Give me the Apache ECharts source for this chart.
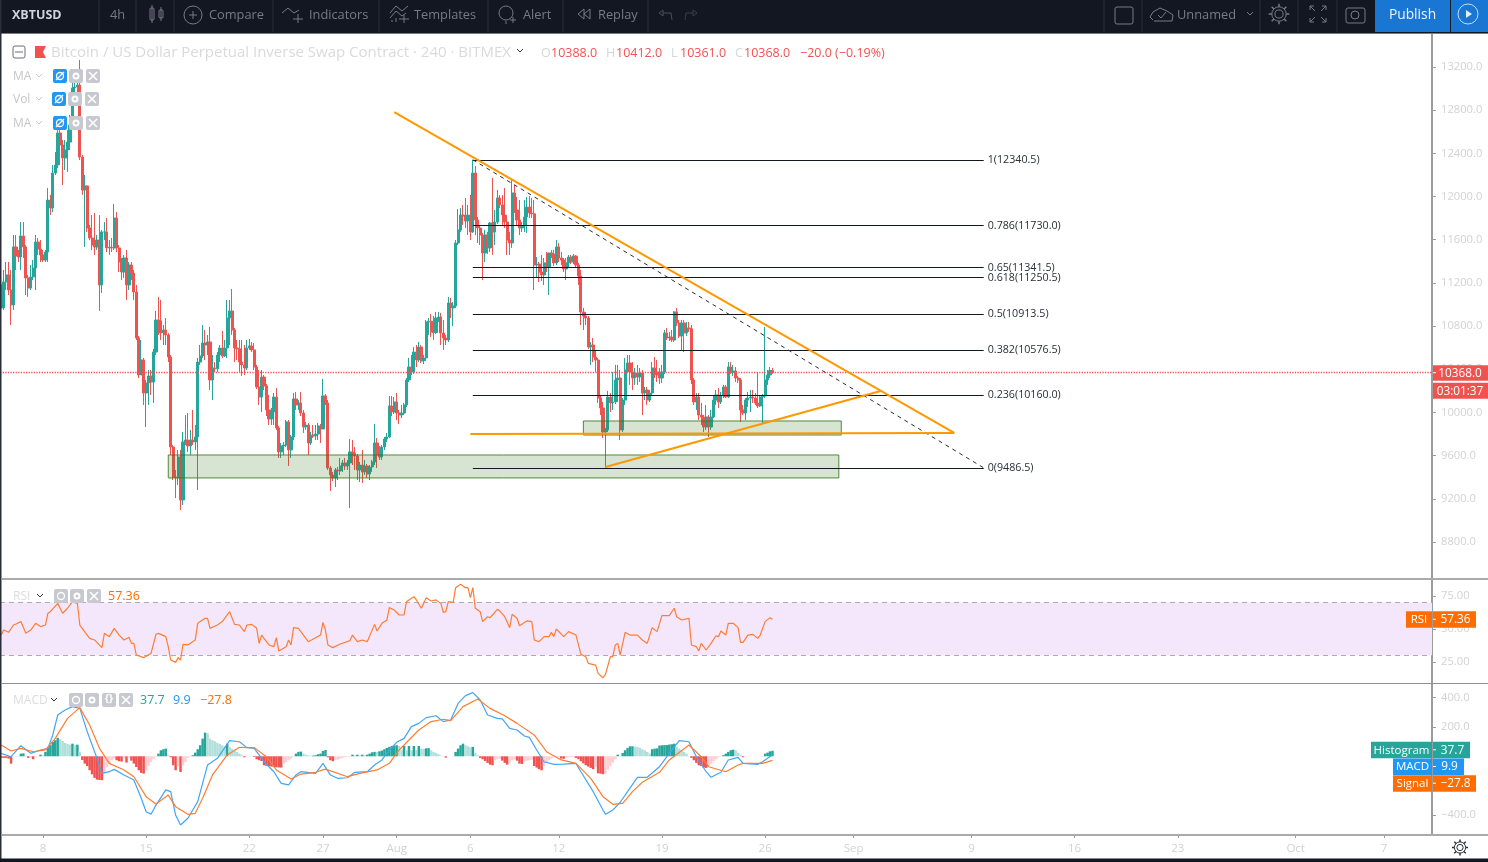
<!DOCTYPE html>
<html>
<head>
<meta charset="utf-8">
<title>XBTUSD</title>
<style>html,body{margin:0;padding:0;background:#fff}#main{width:1488px;height:862px}</style>
<script src="https://cdn.jsdelivr.net/npm/echarts@6/dist/echarts.min.js"></script>
</head>
<body>
<div id="main"></div>
<script>
// 4h candles. each open is the close before it
var firstOpen=11181;
var closes=[
10968,11209,11274,11134,10996,11533,11449,11440,11635,11533,
11246,11153,11255,11338,11579,11514,11459,11412,11486,11968,
11894,12218,12292,12589,12478,12357,12431,12505,12663,13006,
13015,13033,12366,12060,12098,11709,11616,11551,11533,11597,
11181,11672,11672,11524,11530,11524,11801,11524,11394,11301,
11431,11181,11366,11292,11116,10690,10347,10486,10180,10273,
10338,10282,10560,10856,10850,10736,10764,10718,10514,9680,
9402,9395,9587,9189,9726,9745,9689,9745,9726,9773,
10467,10523,10643,10625,10653,10301,10412,10405,10532,10597,
10523,10597,10875,10940,10764,10597,10590,10467,10440,10412,
10597,10616,10579,10421,10236,10143,10328,10245,10023,9939,
10004,10143,9856,9634,9689,9698,9912,9652,9773,10125,
10069,10088,9995,9865,9884,9717,9791,9782,9800,9875,
9847,10153,10088,9486,9421,9393,9467,9458,9504,9532,
9504,9532,9634,9625,9597,9467,9513,9449,9504,9430,
9495,9541,9717,9606,9587,9680,9754,9773,10060,10004,
10097,9995,9976,9995,10069,10301,10421,10375,10560,10486,
10606,10477,10505,10838,10845,10745,10740,10875,10884,10736,
10690,10671,11014,10968,10986,11570,11690,11829,11820,11774,
11829,11672,12218,11783,11709,11644,11477,11644,11524,11755,
11672,11764,11987,11922,11829,11764,11597,11570,12033,11875,
11783,11709,11727,11811,11903,11848,11840,11366,11375,11301,
11274,11385,11347,11477,11468,11385,11533,11431,11412,11329,
11385,11440,11394,11449,11366,11264,10931,10894,10875,10606,
10625,10514,10486,10134,10041,9819,9838,10143,10088,10097,
10301,10319,9838,10115,10393,10458,10375,10319,10365,10328,
10365,10180,10208,10115,10180,10412,10375,10347,10319,10375,
10736,10690,10699,10671,10931,10829,10708,10829,10736,10782,
10775,10301,10097,10143,9976,9958,9865,9958,9865,9958,
10115,10162,10097,10153,10236,10143,10421,10375,10384,10319,
10301,10023,9995,10115,10134,10143,10134,10088,10060,10143,
10153,10301,10347,10388,10368];
var highs=[
11320,11320,11394,11394,11320,11644,11644,11505,11764,11764,
11551,11274,11366,11412,11644,11616,11597,11505,11505,12079,
12015,12292,12413,12709,12663,12524,12524,12616,12756,13061,
13098,13098,13265,12385,12200,12107,11737,11829,11848,11644,
11829,11690,11764,11801,11597,11616,11931,11857,11551,11431,
11459,11505,11394,11394,11320,11181,10708,10671,10505,10301,
10393,10393,10588,10940,11070,11042,10810,10875,10736,10532,
9698,9467,9652,9652,9819,9976,9995,9838,10023,9884,
10505,10625,10810,10764,10718,10792,10532,10467,10560,10625,
10755,10671,11042,11042,11144,10782,10671,10671,10671,10625,
10671,10681,10653,10643,10440,10393,10393,10347,10264,10162,
10041,10180,10227,9875,9717,9726,9930,9930,9791,10180,
10190,10115,10190,10023,9912,9903,9819,9884,9884,9903,
9893,10310,10171,10115,9504,9449,9486,9495,9578,9560,
9578,9560,9754,9745,9680,9615,9541,9652,9560,9523,
9513,9560,9893,9763,9689,9698,9773,9810,10153,10153,
10143,10180,10023,10069,10088,10319,10505,10532,10606,10625,
10653,10625,10532,10856,10875,10912,10894,10931,10931,10922,
10856,10718,11070,11061,11023,11597,11885,11894,11922,11987,
11922,12015,12340.5,12283,11811,11737,11663,11690,11672,11764,
12172,11875,12061,12015,12015,12079,11829,11672,12153,12107,
11996,11968,11764,11968,11996,12005,11987,11968,11440,11394,
11459,11431,11486,11477,11505,11505,11597,11570,11486,11431,
11431,11459,11459,11468,11459,11385,11320,10968,10931,10894,
10653,10690,10579,10505,10162,10097,9856,10199,10180,10375,
10440,10440,10393,10134,10505,10532,10532,10467,10412,10440,
10412,10393,10236,10236,10208,10467,10514,10486,10412,10440,
10764,10782,10745,10764,10940,10968,10856,10856,10856,10838,
10838,10810,10319,10180,10180,10088,9976,10069,9976,10023,
10162,10208,10227,10190,10255,10255,10467,10467,10440,10421,
10338,10319,10069,10134,10190,10208,10208,10180,10375,10162,
10171,10792,10393,10421,10412];
var lows=[
10856,10949,11134,11088,10810,10949,11320,11394,11320,11431,
11088,11070,11134,11227,11134,11459,11394,11394,11394,11394,
11829,11857,12200,12264,12292,12107,12246,12228,12431,12616,
12894,12913,12338,12015,11533,11672,11597,11505,11459,11505,
10940,11107,11597,11486,11459,11486,11505,11486,11301,11227,
11246,11042,11134,11227,11042,10671,10319,10347,10069,9865,
10069,10162,10088,10532,10718,10671,10625,10625,10467,9606,
9374,9207,9328,9096,9142,9698,9634,9606,9698,9652,
9282,10440,10505,10486,10532,10208,10115,10375,10375,10467,
10505,10514,10505,10625,10718,10467,10486,10375,10338,10347,
10393,10579,10560,10393,10217,10069,10004,10208,9967,9884,
9884,9884,9838,9578,9578,9606,9680,9504,9578,9745,
10023,10023,9967,9810,9838,9606,9698,9763,9745,9745,
9717,9884,10069,9467,9272,9365,9309,9374,9421,9449,
9467,9467,9115,9513,9467,9374,9356,9346,9421,9393,
9374,9449,9513,9486,9560,9560,9652,9726,9763,9967,
9985,9930,9893,9948,9976,10051,10282,10347,10356,10421,
10467,10458,10449,10477,10718,10699,10671,10727,10838,10625,
10579,10625,10653,10875,10801,10968,11551,11672,11737,11709,
11644,11597,11663,11644,11570,11551,11227,11394,11468,11486,
11459,11551,11746,11894,11737,11709,11459,11459,11524,11848,
11737,11644,11672,11672,11663,11801,11801,11134,11255,11209,
11218,11181,11301,11088,11431,11357,11366,11394,11366,11301,
11227,11338,11375,11375,11338,11181,10810,10764,10810,10588,
10440,10467,10375,10088,9976,9763,9486.5,9819,10004,10023,
10078,10097,9745,9819,10069,10375,10255,10208,10255,10255,
10282,9976,10115,10069,10097,10162,10319,10282,10264,10273,
10356,10671,10662,10653,10653,10801,10690,10579,10560,10708,
10745,10264,10069,10023,9930,9884,9819,9838,9773,9838,
9948,10069,10041,10078,10134,10134,10134,10356,10338,10282,
10273,9912,9976,9930,10051,10004,10088,10069,10041,10051,
9902,10134,10255,10319,10361];

// rsi vertices: candle index and value
var rsiCandle=[0,1,3,5,6,8,10,12,14,16,18,19,20,23,25,27,29,31,32,35,36,38,41,42,44,46,48,50,52,53,54,55,58,61,63,64,67,68,69,71,72,73,74,76,79,80,83,84,85,88,90,93,95,97,99,100,102,104,105,106,109,111,112,113,116,117,118,119,121,125,130,131,132,133,135,138,142,143,145,147,149,152,153,155,157,158,160,162,164,165,166,168,169,171,172,173,175,177,179,180,181,182,184,185,187,189,190,191,192,193,195,196,198,199,200,202,203,205,207,208,210,211,214,216,217,219,221,223,224,225,226,229,231,234,236,238,239,242,243,245,246,248,249,250,251,252,254,256,259,261,263,265,267,269,272,274,275,277,280,281,283,284,285,287,289,291,292,293,295,296,298,300,301,302,304,306,308,309,311,313,314];
var rsiValue=[45.4,49.2,47.5,53.0,53.8,55.6,46.7,49.2,54.3,51.8,53.0,61.9,63.1,69.4,61.9,65.7,70.7,69.4,53.0,45.4,42.9,41.7,35.9,46.7,44.2,50.5,45.4,41.7,43.7,39.1,39.1,30.3,28.3,31.6,46.0,46.7,44.2,36.6,26.5,24.7,28.3,26.5,38.4,37.9,41.7,54.3,58.1,58.1,50.5,53.0,55.6,63.1,53.5,53.0,48.0,53.0,53.5,50.5,39.1,45.4,37.9,36.6,43.4,33.3,36.6,41.7,37.9,51.0,50.5,40.4,45.4,55.0,49.2,37.9,35.9,38.6,41.2,45.4,40.4,41.7,40.4,53.5,48.5,54.3,56.8,66.2,64.4,60.6,60.6,70.7,72.0,74.5,72.0,65.7,69.4,73.7,71.2,72.0,69.4,62.6,63.1,70.7,70.2,81.3,83.8,81.3,81.3,73.7,81.3,65.7,63.1,55.6,59.3,58.6,60.6,64.9,63.6,59.3,51.0,61.1,58.1,52.5,56.1,55.6,41.7,40.4,44.2,44.2,47.5,44.2,50.0,44.2,48.0,45.4,30.8,29.0,24.0,22.7,16.4,13.1,15.6,29.0,29.0,37.9,39.1,30.3,47.5,45.4,45.4,41.7,39.1,51.0,48.0,60.1,60.1,65.7,59.3,56.8,58.1,37.9,36.6,33.3,39.1,34.1,39.1,44.9,44.2,48.5,45.4,54.3,54.3,51.0,39.9,39.9,45.4,45.9,42.9,45.4,55.6,58.6,57.36];

// macd and signal vertices
var macdCandle=[0,4,8,12,16,19,21,23,26,29,32,35,37,39,41,44,46,50,54,57,59,61,63,67,69,71,73,76,80,84,88,93,97,100,103,107,111,114,117,120,122,128,131,134,137,141,144,149,152,155,158,161,164,167,170,173,177,180,183,186,189,192,195,198,202,204,207,210,213,215,218,221,225,229,234,236,241,245,246,249,252,255,259,263,268,271,276,280,283,287,289,293,296,300,302,308,310,314];
var macdValue=[20,-3,72,20,43,54,145,281,315,338,326,168,77,-14,-116,-105,-89,-127,-161,-286,-377,-395,-332,-229,-241,-400,-468,-422,-309,-59,-14,106,99,59,54,-37,-105,-184,-195,-127,-105,-116,-48,-127,-150,-146,-109,-105,-59,-25,43,95,122,202,224,263,276,236,247,360,413,433,383,281,258,254,190,179,138,129,43,-37,-55,-53,-48,-105,-241,-366,-395,-366,-313,-241,-143,-143,-71,-3,106,99,-3,-105,-143,-109,-25,-7,-48,-55,-37,9.9];
var signalCandle=[0,4,8,13,18,22,27,32,36,40,44,50,54,59,63,68,71,76,79,82,86,92,97,103,108,112,118,122,128,132,141,146,153,158,162,166,170,175,180,183,188,194,199,205,210,217,222,228,234,240,245,249,253,257,261,268,272,280,285,288,295,300,302,310,314];
var signalValue=[77,36,54,31,43,122,258,331,213,54,-48,-93,-139,-275,-325,-264,-343,-395,-388,-286,-127,9,61,59,-3,-93,-155,-121,-109,-87,-139,-116,-93,-48,43,111,179,236,252,243,338,390,326,276,224,145,31,-25,-48,-150,-275,-327,-320,-241,-177,-109,-25,77,-3,-71,-105,-59,-48,-48,-27.8];
var histValue=[
-11,-11,-11,-16,-50,0,1,1,18,20,
-1,-11,-9,-20,-3,1,11,6,30,57,
75,98,109,125,116,104,91,84,79,86,
75,79,30,-25,-50,-66,-95,-123,-147,-159,
-161,-163,-107,-73,-50,-27,-16,-27,-34,-36,
-14,-43,-11,-30,-50,-73,-95,-113,-118,-95,
-66,-39,-20,1,18,41,48,52,7,-7,
-61,-95,-68,-107,-62,-39,-11,-3,7,25,
48,75,120,161,158,120,109,102,91,84,
75,68,86,64,52,41,30,18,7,-7,
0,0,0,-5,-20,-27,-32,-61,-65,-66,
-70,-73,-75,-76,-77,-50,-39,-27,-16,1,
18,30,32,18,11,6,4,5,7,14,
18,36,43,-7,-27,-34,-27,-23,-16,-11,
-7,-4,1,11,7,11,7,11,7,11,
18,27,30,29,34,39,48,57,64,70,
73,75,70,41,70,41,70,41,70,41,
70,52,51,54,55,41,30,23,14,5,
1,-9,0,0,1,30,52,75,86,75,
68,61,64,25,7,-11,-20,-32,-45,-57,
-61,-27,-20,-18,-30,-45,-57,-43,-27,-20,
-30,-50,-52,-34,-30,-27,-23,-66,-77,-88,
-95,-66,-43,-27,-14,-7,-5,-4,-16,-17,
-9,-7,-6,-5,-11,-20,-34,-48,-61,-70,
-79,-88,-72,-116,-118,-122,-118,-91,-66,-43,
-20,11,1,23,41,57,68,68,66,64,
57,48,41,30,18,48,52,54,73,75,
76,77,80,82,86,64,52,41,30,18,
2,-11,-27,-45,-61,-66,-77,-79,-66,-50,
-34,-20,-7,0.5,7,18,30,41,45,41,
25,7,-7,0,0,0,0,0,0,0,
1,18,25,34,37.7];

// axis ticks and labels
var priceTicks=[8800,9200,9600,10000,10400,10800,11200,11600,12000,12400,12800,13200];
var rsiTicks=[25,50,75];
var macdTicks=[-400,200,400];
var tickDates=['2019-07-08','2019-07-15','2019-07-22','2019-07-27','2019-08-01','2019-08-06','2019-08-12','2019-08-19','2019-08-26','2019-09-01','2019-09-09','2019-09-16','2019-09-23','2019-10-01','2019-10-07'];
var tickLabels=['8','15','22','27','Aug','6','12','19','26','Sep','9','16','23','Oct','7'];

// drawings on the price pane, [candle,price]
var fibNames=['1','0.786','0.65','0.618','0.5','0.382','0.236','0'];
var fibPrices=[12340.5,11730.0,11341.5,11250.5,10913.5,10576.5,10160.0,9486.5];
var fibFrom=192,fibTo=400;
var dashLine=[[192,12340.5],[400,9486.5]];
var fallLine=[[160,12783],[388,9810]];
var flatLine=[[191,9800],[388,9810]];
var riseLine=[[246,9494],[358,10199]];
var zoneUpper=[[237,9921],[342,9791]];
var zoneLower=[[68,9606],[341,9393]];

var lastPrice=10368.0;
var categoryCount=583;
var GREEN='#26a69a',RED='#ef5350',ORANGE='#ff6d00',BLUE='#2196f3',PALE_GREEN='#b2dfdb',PALE_RED='#ffcdd2';
var LABEL='#d2d2d2',AXIS='#9c9c9c';
var FONT='"Open Sans","Noto Sans",sans-serif';

var categories=[];
var startTime=Date.UTC(2019,6,5,4);
for(var i=0;i<categoryCount;i++){
    var iso=new Date(startTime+i*4*3600*1000).toISOString();
    categories.push(iso.substring(0,10)+' '+iso.substring(11,13));
}
function isTick(index,value){
    return value.substring(11)=='00' && tickDates.indexOf(value.substring(0,10))!=-1;
}

var candleData=[];
for(var c=0;c<closes.length;c++){
    candleData.push([c==0?firstOpen:closes[c-1],closes[c],lows[c],highs[c]]);
}
var histData=[];
for(var h=0;h<histValue.length;h++){
    var prev=h==0?0:histValue[h-1];
    var v=histValue[h];
    var col=v>=0?(v>=prev?GREEN:PALE_GREEN):(v<=prev?RED:PALE_RED);
    histData.push({value:v,itemStyle:{color:col}});
}
function pairs(xs,ys){
    var out=[];
    for(var k=0;k<xs.length;k++){out.push([xs[k],ys[k]]);}
    return out;
}
function drawnLine(points,color,width,type,z){
    return {type:'line',xAxisIndex:0,yAxisIndex:0,data:points,showSymbol:false,silent:true,z:z,
        lineStyle:{color:color,width:width,type:type}};
}
function zoneArea(zone){
    return [{coord:zone[0]},{coord:zone[1]}];
}

var fibMarks=[];
for(var f=0;f<fibPrices.length;f++){
    fibMarks.push([{coord:[fibFrom,fibPrices[f]]},
        {coord:[fibTo,fibPrices[f]],label:{formatter:fibNames[f]+'('+fibPrices[f].toFixed(1)+')'}}]);
}

function yAxisFor(grid,min,max,ticks,decimals){
    return {type:'value',gridIndex:grid,position:'right',min:min,max:max,scale:true,splitLine:{show:false},
        axisLine:{show:true,lineStyle:{color:AXIS,width:2}},
        axisTick:{show:true,length:4,lineStyle:{color:AXIS},customValues:ticks},
        axisLabel:{color:LABEL,fontFamily:FONT,fontSize:11.2,margin:9,padding:[2,0,0,0],customValues:ticks,
            formatter:function(val){return val.toFixed(decimals).replace('-','\u2212');}}};
}

var chart=echarts.init(document.getElementById('main'),null,{renderer:'canvas'});
chart.setOption({
    animation:false,
    backgroundColor:'#ffffff',
    grid:[
        {left:0,top:34,width:1432,height:545},
        {left:0,top:580,width:1432,height:103},
        {left:0,top:684,width:1432,height:150}
    ],
    xAxis:[
        {type:'category',gridIndex:0,data:categories,show:false},
        {type:'category',gridIndex:1,data:categories,show:false},
        {type:'category',gridIndex:2,data:categories,
            axisLine:{show:false,onZero:false},
            axisTick:{show:true,alignWithLabel:true,length:4,interval:isTick,lineStyle:{color:AXIS}},
            axisLabel:{color:LABEL,fontFamily:FONT,fontSize:11.5,margin:9,interval:isTick,hideOverlap:false,
                formatter:function(val){return tickLabels[tickDates.indexOf(val.substring(0,10))];}}}
    ],
    yAxis:[
        yAxisFor(0,8457,13506,priceTicks,1),
        yAxisFor(1,9.1,87.1,rsiTicks,2),
        yAxisFor(2,-529,492,macdTicks,1)
    ],
    series:[
        {type:'candlestick',xAxisIndex:0,yAxisIndex:0,data:candleData,barWidth:2.6,z:2,silent:true,
            itemStyle:{color:GREEN,color0:RED,borderColor:GREEN,borderColor0:RED,borderWidth:1},
            markLine:{silent:true,symbol:'none',animation:false,z:3,
                lineStyle:{color:RED,type:'dotted',width:1.3},label:{show:false},
                data:[{yAxis:lastPrice}]}},
        {type:'line',xAxisIndex:0,yAxisIndex:0,data:[],silent:true,z:6,
            markArea:{silent:true,z:4,itemStyle:{color:'rgba(56,118,29,0.2)',borderColor:'rgba(56,118,29,0.85)',borderWidth:1},
                data:[zoneArea(zoneUpper),zoneArea(zoneLower)]},
            markLine:{silent:true,symbol:'none',animation:false,z:6,
                lineStyle:{color:'#131722',width:1,type:'solid'},
                label:{show:true,position:'end',distance:4,color:'#2a2e39',fontFamily:FONT,fontSize:10.7,padding:[2,0,0,0]},
                data:fibMarks}},
        drawnLine(dashLine,'#2a2e39',1,[4,4],7),
        drawnLine(fallLine,'#ff9800',2,'solid',8),
        drawnLine(flatLine,'#ff9800',2,'solid',8),
        drawnLine(riseLine,'#ff9800',2,'solid',8),
        {type:'line',xAxisIndex:1,yAxisIndex:1,data:pairs(rsiCandle,rsiValue),showSymbol:false,silent:true,z:3,
            lineStyle:{color:'#ff7d33',width:1.2},
            markArea:{silent:true,z:1,itemStyle:{color:'#f4e7fc'},data:[[{yAxis:70},{yAxis:30}]]},
            markLine:{silent:true,symbol:'none',animation:false,z:2,label:{show:false},
                lineStyle:{color:'#adadad',type:[5,4],width:1},data:[{yAxis:70},{yAxis:30}]}},
        {type:'bar',xAxisIndex:2,yAxisIndex:2,data:histData,barWidth:'100%',silent:true,z:2},
        {type:'line',xAxisIndex:2,yAxisIndex:2,data:pairs(macdCandle,macdValue),showSymbol:false,silent:true,z:3,
            lineStyle:{color:'#42a5f5',width:1.2}},
        {type:'line',xAxisIndex:2,yAxisIndex:2,data:pairs(signalCandle,signalValue),showSymbol:false,silent:true,z:4,
            lineStyle:{color:'#ff7d33',width:1.2}}
    ]
});

// page chrome around the chart: toolbar, legends, axis tags
var shapes=[];
function box(x,y,w,h,fill,r,stroke){
    shapes.push({type:'rect',silent:true,z:100,shape:{x:x,y:y,width:w,height:h,r:r||0},
        style:{fill:fill,stroke:stroke||null,lineWidth:stroke?1:0}});
}
function text(x,y,str,fill,size,align,weight){
    shapes.push({type:'text',silent:true,z:101,
        style:{x:x,y:y,text:str,fill:fill,textAlign:align||'left',textVerticalAlign:'middle',
            font:(weight||'normal')+' '+size+'px '+FONT}});
}
function line(x1,y1,x2,y2,color,w){
    shapes.push({type:'line',silent:true,z:101,shape:{x1:x1,y1:y1,x2:x2,y2:y2},style:{stroke:color,lineWidth:w||1}});
}
function poly(points,color,w){
    shapes.push({type:'polyline',silent:true,z:101,shape:{points:points},style:{stroke:color,lineWidth:w||1,fill:null}});
}
function ring(x,y,r,color,fill,w){
    shapes.push({type:'circle',silent:true,z:101,shape:{cx:x,cy:y,r:r},style:{stroke:color,fill:fill||null,lineWidth:w||1}});
}
function gear(x,y,r,color){
    ring(x,y,r*0.45,color);
    ring(x,y,r*0.8,color);
    for(var a=0;a<8;a++){
        var t=a*Math.PI/4;
        line(x+Math.cos(t)*r*0.8,y+Math.sin(t)*r*0.8,x+Math.cos(t)*r*1.15,y+Math.sin(t)*r*1.15,color,1.5);
    }
}
function chevron(x,y,color){
    poly([[x-3,y-2],[x,y+1],[x+3,y-2]],color,1);
}
function eyeButton(x,y,on){
    box(x,y,14,14,on?BLUE:'#c8c9d0',2);
    ring(x+7,y+7,3.5,'#ffffff',null,1.3);
    if(on){line(x+3,y+11,x+11,y+3,'#ffffff',1.2);}
}
function gearButton(x,y){
    box(x,y,14,14,'#c8c9d0',2);
    ring(x+7,y+7,2.5,'#ffffff',null,2);
}
function closeButton(x,y){
    box(x,y,14,14,'#c8c9d0',2);
    line(x+3,y+3,x+11,y+11,'#ffffff',1.6);
    line(x+11,y+3,x+3,y+11,'#ffffff',1.6);
}
function tag(xLeft,y,name,value,color,w,nameW){
    if(name){
        box(xLeft-nameW-1,y-8,nameW,16.5,color);
        text(xLeft-nameW/2-1,y+0.5,name,'#ffffff',11.5,'center');
    }
    box(xLeft,y-8,w,16.5,color);
    line(xLeft,y,xLeft+3,y,'#ffffff',1);
    text(xLeft+w/2+1,y+0.5,value,'#ffffff',11.8,'center');
}

// toolbar
var DARK='#131722',TOOL='#787b86',SEP='#2a2e39';
box(0,0,1488,33,DARK);
box(0,33,1488,1,'#787b86');
var toolSeps=[99,136,174,273,379,488,563,648,1104,1142,1260,1298,1337];
for(var s=0;s<toolSeps.length;s++){line(toolSeps[s],0,toolSeps[s],32,SEP,1);}
text(12,15,'XBTUSD','#d1d4dc',12.5,'left','bold');
text(110,15,'4h',TOOL,12.8);
box(150,8,4,12,null,1,TOOL);box(159,10,4,8,null,1,TOOL);
line(152,5,152,23,TOOL);line(161,7,161,21,TOOL);
ring(193,15,9,TOOL);line(189,15,197,15,TOOL);line(193,11,193,19,TOOL);
text(209,15,'Compare',TOOL,12.8);
poly([[282,13],[288,8],[294,13],[299,10]],TOOL);line(298,14,298,23,TOOL);line(293,19,303,19,TOOL);
text(309,15,'Indicators',TOOL,12.8);
poly([[390,13],[396,6],[402,11],[408,6]],TOOL);poly([[390,18],[396,11],[402,16],[406,13]],TOOL);
line(404,15,404,23,TOOL);line(399,19,409,19,TOOL);line(392,22,392,20,TOOL);line(396,22,396,18,TOOL);
text(414,15,'Templates',TOOL,12.8);
ring(506,13,7,TOOL);line(506,21,506,24,TOOL);line(510,20,516,20,TOOL);line(513,17,513,23,TOOL);
text(523,15,'Alert',TOOL,12.8);
poly([[584,9],[578,14],[584,19],[584,9]],TOOL);poly([[590,9],[584,14],[590,19],[590,9]],TOOL);
text(598,15,'Replay',TOOL,12.8);
poly([[659,13],[663,10],[663,16],[659,13]],'#4a4e59');poly([[663,13],[671,13],[672,20]],'#4a4e59');
poly([[697,13],[693,10],[693,16],[697,13]],'#3a3e49');poly([[693,13],[686,13],[685,20]],'#3a3e49');
box(1115,7,18,17,null,2,TOOL);
poly([[1153,20],[1150,17],[1153,12],[1160,8],[1167,11],[1173,15],[1172,21],[1154,21]],TOOL);
poly([[1158,15],[1161,18],[1166,12]],TOOL);
text(1177,15,'Unnamed',TOOL,12.8);
chevron(1250,14,TOOL);
gear(1279,14,9,TOOL);
poly([[1310,10],[1310,6],[1314,6]],TOOL);line(1310,6,1315,11,TOOL);
poly([[1322,6],[1326,6],[1326,10]],TOOL);line(1326,6,1321,11,TOOL);
poly([[1310,18],[1310,22],[1314,22]],TOOL);line(1310,22,1315,17,TOOL);
poly([[1322,22],[1326,22],[1326,18]],TOOL);line(1326,22,1321,17,TOOL);
box(1346,8,19,15,null,2,TOOL);ring(1355,15,4,TOOL);
box(1375,0,75,32,'#1976d2');
text(1412.5,15,'Publish','#f0f3fa',13.8,'center');
box(1451,0,37,32,'#1976d2');
ring(1468,14,10,'#c4daf5');
shapes.push({type:'polygon',silent:true,z:101,shape:{points:[[1466,10],[1466,18],[1472,14]]},style:{fill:'#e3eefb'}});

// pane frames
box(0,0,1.5,862,'#2a2e39');
box(0,858.5,1488,3.5,DARK);
box(1.5,578,1486.5,2,'#aaaaaa');
box(1.5,683,1486.5,1,'#8f8f8f');
box(1.5,834,1486.5,2,'#aaaaaa');

// price legend
box(13,46,12,12,null,2,'#6a6d78');
line(15,52,23,52,'#6a6d78');
shapes.push({type:'polygon',silent:true,z:101,shape:{points:[[35,46],[46,46],[43,52],[46,58],[35,58]]},style:{fill:RED}});
text(51,53,'Bitcoin / US Dollar Perpetual Inverse Swap Contract \u00b7 240 \u00b7 BITMEX','#dadada',15);
chevron(520,51,'#333333');
var ohlcKeys=['O','H','L','C'],ohlcVals=['10388.0','10412.0','10361.0','10368.0'],ohlcKeyX=[541,606,671,735],ohlcValX=[551,616,680,744];
for(var o=0;o<4;o++){
    text(ohlcKeyX[o],53,ohlcKeys[o],'#d6d6d6',12.5);
    text(ohlcValX[o],53,ohlcVals[o],RED,12.5);
}
text(800,53,'\u221220.0 (\u22120.19%)',RED,12.5);

// study legends
var studyNames=['MA','Vol','MA'],studyY=[76,99,123];
for(var r=0;r<3;r++){
    var dx=r==1?-1:0;
    text(13,studyY[r]+1,studyNames[r],'#c6c6c6',12);
    chevron(39,studyY[r],'#c6c6c6');
    eyeButton(53+dx,studyY[r]-7,true);
    gearButton(69+dx,studyY[r]-7);
    closeButton(86+dx,studyY[r]-7);
}
text(13,597,'RSI','#dcdcdc',12);
chevron(40,596,'#333333');
eyeButton(54,589,false);gearButton(70,589);closeButton(87,589);
text(108,596.5,'57.36',ORANGE,12.5);
text(13,701,'MACD','#dcdcdc',12);
chevron(54,700,'#333333');
eyeButton(69,693,false);gearButton(85,693);
box(102,693,14,14,'#c8c9d0',2);
text(109,699.5,'{}','#ffffff',10.5,'center','bold');
closeButton(119,693);
text(140,700.5,'37.7',GREEN,12.5);
text(173,700.5,'9.9',BLUE,12.5);
text(200,700.5,'\u221227.8',ORANGE,12.5);

// axis tags sit on the values they report
var priceY=chart.convertToPixel({yAxisIndex:0},lastPrice);
box(1433,priceY-7.5,55,15.5,RED);
text(1460,priceY+0.5,'10368.0','#ffffff',11.8,'center');
line(1433,priceY,1436,priceY,'#ffffff');
box(1433,priceY+10,55,16,RED);
text(1460,priceY+18.5,'03:01:37','#ffffff',11.8,'center');
var rsiY=chart.convertToPixel({yAxisIndex:1},57.36);
tag(1433,rsiY,'RSI','57.36',ORANGE,43,26);
tag(1433,749.8,'Histogram','37.7',GREEN,37,61);
tag(1433,766.5,'MACD','9.9',BLUE,31,39);
tag(1433,783.2,'Signal','\u221227.8',ORANGE,43,39);

gear(1460,847.5,7,'#2a2e39');

chart.setOption({graphic:{elements:shapes}});
</script>
</body>
</html>
